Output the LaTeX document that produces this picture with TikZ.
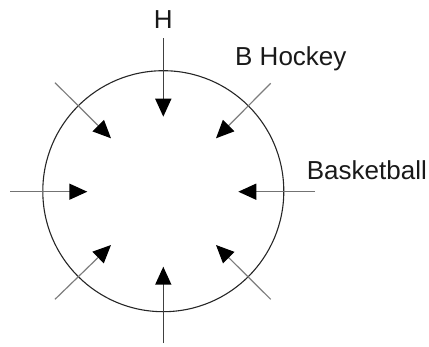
\documentclass[tikz,border=0pt]{standalone}
\usepackage{fontspec}
\setmainfont{Liberation Sans}
\usetikzlibrary{arrows.meta}
\definecolor{diaggray}{RGB}{125,125,125}
\tikzset{
  ring/.style={draw=black!85, line width=1.1pt, circle, minimum size=241pt, inner sep=0pt},
  pointer/.style={line width=1.5pt, -{Triangle[length=18pt,width=16pt,color=black]}},
  diagpointer/.style={draw=diaggray, line width=1.2pt, -{Triangle[length=18pt,width=16pt,color=black]}},
  lbl/.style={font=\fontsize{26}{30}\selectfont, inner sep=0pt, text=black!90}
}
\begin{document}
\begin{tikzpicture}[x=1pt,y=-1pt]
\useasboundingbox (0,0) rectangle (429,346);
\node[ring] (c) at (163.3,191.2) {};
% start points
\coordinate (sT) at (163.3,38.3);
\coordinate (sB) at (163.3,343);
\coordinate (sL) at (10,191.7);
\coordinate (sR) at (315,191.7);
\coordinate (sTL) at (55,82.7);
\coordinate (sTR) at (270.7,83.3);
\coordinate (sBL) at (55,299.3);
\coordinate (sBR) at (270.7,299.3);
% tips
\coordinate (tT) at (163.3,116.7);
\coordinate (tB) at (163.3,266.7);
\coordinate (tL) at (87.3,191.7);
\coordinate (tR) at (238.3,191.7);
\coordinate (tTL) at (111,138.3);
\coordinate (tTR) at (216,138.3);
\coordinate (tBL) at (111,245);
\coordinate (tBR) at (216,245);
\draw[pointer,draw=black!75] (sT) -- (tT);
\draw[pointer,draw=black!75] (sB) -- (tB);
\draw[pointer,draw=black!55] (sL) -- (tL);
\draw[pointer,draw=black!55] (sR) -- (tR);
\draw[diagpointer] (sTL) -- (tTL);
\draw[diagpointer] (sTR) -- (tTR);
\draw[diagpointer] (sBL) -- (tBL);
\draw[diagpointer] (sBR) -- (tBR);
\node[lbl, anchor=base] (h) at (163.3,28.3) {H};
\node[lbl, anchor=base west] (bh) at (235,65) {B Hockey};
\node[lbl, anchor=base west] (bb) at (306.7,179.3) {Basketball};
\end{tikzpicture}
\end{document}
